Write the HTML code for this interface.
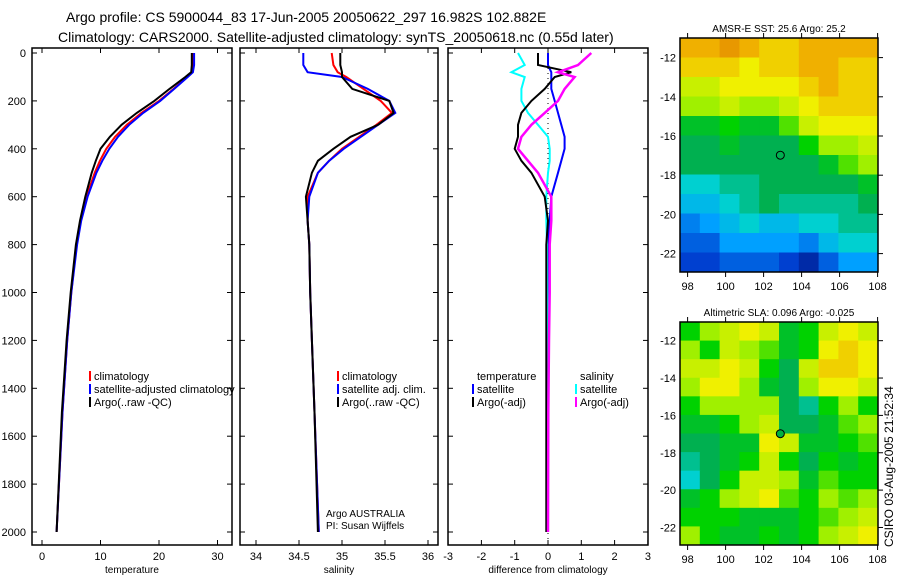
<!DOCTYPE html>
<html><head><meta charset="utf-8"><style>
body{margin:0;background:#fff;}
svg{display:block;font-family:"Liberation Sans",sans-serif;}
</style></head><body>
<svg id="c" width="900" height="580" xmlns="http://www.w3.org/2000/svg">
<text x="66" y="22" font-size="14">Argo profile: CS 5900044_83 17-Jun-2005 20050622_297 16.982S 102.882E</text>
<text x="58" y="42" font-size="14">Climatology: CARS2000. Satellite-adjusted climatology: synTS_20050618.nc (0.55d later)</text>
<text transform="translate(893,547) rotate(-90)" font-size="12">CSIRO 03-Aug-2005 21:52:34</text>
</svg>
<script>
// depth levels (m)
const depths=[0,50,80,100,150,200,250,300,350,400,450,500,600,700,800,1000,1200,1500,2000];
// temperature (deg C)
const tempClim=[25.9,25.9,25.7,24.8,22.5,20,17,14.5,12.5,11,9.9,9,7.6,6.6,5.9,5,4.3,3.5,2.5];
const tempSat=[26,26,25.8,24.9,22.6,20.2,17.3,14.9,13,11.5,10.3,9.3,7.8,6.7,6,5,4.3,3.5,2.5];
const tempArgo=[25.6,25.6,25.5,24.5,21.8,19.2,16.2,13.6,11.6,10,9.2,8.5,7.4,6.5,5.8,4.9,4.2,3.4,2.5];
// salinity (psu)
const salClim=[34.88,34.9,34.95,35.05,35.25,35.45,35.58,35.4,35.2,35.0,34.85,34.72,34.6,34.6,34.62,34.63,34.65,34.68,34.73];
const salSat=[34.55,34.55,34.6,35.0,35.3,35.55,35.62,35.42,35.22,35.02,34.85,34.72,34.62,34.6,34.62,34.63,34.65,34.68,34.73];
const salArgo=[34.98,34.98,35.0,35.0,35.12,35.55,35.6,35.42,35.1,34.9,34.72,34.65,34.58,34.6,34.62,34.63,34.65,34.68,34.72];
// differences from climatology
const dTempSat=[0,0,0.1,0.1,0.1,0.2,0.3,0.4,0.5,0.5,0.4,0.3,0.1,0.05,0,0,0,0,0];
const dTempArgo=[-0.3,-0.3,0.7,0.2,-0.1,-0.5,-0.8,-0.9,-0.9,-1.0,-0.8,-0.5,-0.1,0,-0.05,-0.05,-0.05,-0.05,-0.05];
const dSalSat=[-0.9,-0.7,-1.1,-0.7,-0.8,-0.8,-0.6,-0.3,0,0.05,0.05,0,-0.05,-0.05,-0.03,-0.02,0,0,0];
const dSalArgo=[1.3,0.9,0.3,0.8,0.5,0.3,-0.1,-0.5,-0.8,-0.9,-0.6,-0.3,0.1,0.1,0.05,0.05,0.03,0.01,0];
// map grids (colour index 0..1), rows from north to south
const sstGrid=[
[.9,.9,.95,.9,.85,.85,.9,.9,.9,.9],[.85,.85,.85,.8,.85,.85,.9,.9,.85,.85],
[.75,.75,.8,.8,.8,.8,.85,.9,.85,.85],[.7,.7,.75,.7,.7,.75,.8,.85,.85,.85],
[.55,.55,.6,.55,.55,.65,.75,.8,.8,.8],[.5,.5,.55,.5,.5,.5,.6,.7,.7,.75],
[.5,.5,.5,.5,.5,.5,.5,.55,.65,.7],[.4,.4,.45,.45,.5,.5,.5,.5,.5,.55],
[.35,.35,.4,.45,.5,.45,.45,.45,.45,.5],[.25,.3,.35,.4,.35,.35,.4,.4,.45,.45],
[.2,.2,.3,.3,.3,.3,.25,.35,.4,.4],[.15,.15,.2,.2,.2,.15,.08,.2,.3,.3]];
const slaGrid=[
[.6,.7,.75,.8,.75,.55,.6,.75,.8,.75],[.7,.6,.75,.7,.65,.55,.6,.8,.85,.8],
[.75,.75,.8,.75,.6,.5,.75,.85,.85,.8],[.7,.8,.8,.7,.55,.5,.7,.8,.8,.75],
[.6,.7,.7,.7,.7,.5,.45,.6,.7,.6],[.55,.55,.6,.7,.75,.5,.5,.55,.65,.7],
[.5,.5,.55,.55,.8,.75,.55,.55,.6,.65],[.45,.5,.55,.6,.75,.6,.5,.6,.55,.6],
[.4,.5,.6,.75,.75,.7,.55,.65,.6,.6],[.55,.6,.7,.75,.8,.65,.6,.7,.65,.7],
[.6,.6,.6,.55,.55,.55,.6,.65,.7,.75],[.7,.6,.55,.55,.6,.55,.6,.7,.75,.8]];
const depthTicks=[0,200,400,600,800,1000,1200,1400,1600,1800,2000];
const tempTicks=[0,10,20,30];
const salTicks=[34,34.5,35,35.5,36];
const diffTicks=[-3,-2,-1,0,1,2,3];
const latTicks=[-12,-14,-16,-18,-20,-22];
const lonTicks=[98,100,102,104,106,108];

const svg=document.getElementById('c');const NS='http://www.w3.org/2000/svg';
function mk(t,a,p){const e=document.createElementNS(NS,t);for(const k in a)e.setAttribute(k,a[k]);(p||svg).appendChild(e);return e;}
const yD=d=>53+d*0.2395;
const panels=[
 {x0:32,x1:232,sx:v=>42+v*5.85,ticks:tempTicks,lab:'temperature',name:'temperature-panel'},
 {x0:240,x1:438,sx:v=>256+(v-34)*86,ticks:salTicks,lab:'salinity',name:'salinity-panel'},
 {x0:448,x1:648,sx:v=>548+v*33.3,ticks:diffTicks,lab:'difference from climatology',name:'difference-panel'}];
panels.forEach((p,i)=>{
 const g=mk('g',{});
 
 
 mk('rect',{x:p.x0,y:48,width:p.x1-p.x0,height:497,fill:'none',stroke:'#000','stroke-width':1.5},g);
 depthTicks.forEach(d=>{const y=yD(d);
  mk('line',{x1:p.x1,x2:p.x1-5,y1:y,y2:y,stroke:'#000'},g);
  mk('line',{x1:p.x0,x2:p.x0+5,y1:y,y2:y,stroke:'#000'},g);
  if(i==0){const t=mk('text',{x:26,y:y+4,'font-size':11,'text-anchor':'end'},g);t.textContent=d;}
 });
 p.ticks.forEach(v=>{const x=p.sx(v);
  mk('line',{x1:x,x2:x,y1:545,y2:540,stroke:'#000'},g);
  mk('line',{x1:x,x2:x,y1:48,y2:53,stroke:'#000'},g);
  const t=mk('text',{x:x,y:560,'font-size':11,'text-anchor':'middle'},g);t.textContent=v;});
 const t=mk('text',{x:(p.x0+p.x1)/2,y:573,'font-size':10,'text-anchor':'middle'},g);t.textContent=p.lab;
});
function line(arr,sx,col,w,name,dash){
 const pts=arr.map((v,i)=>sx(v).toFixed(1)+','+yD(depths[i]).toFixed(1)).join(' ');
 const e=mk('polyline',{points:pts,fill:'none',stroke:col,'stroke-width':w});
 if(dash)e.setAttribute('stroke-dasharray',dash);
 
 
}
const P=panels;
line(tempClim,P[0].sx,'#f00',2,'temp-climatology-line');
line(tempSat,P[0].sx,'#00f',2,'temp-satellite-line');
line(tempArgo,P[0].sx,'#000',2,'temp-argo-line');
line(salClim,P[1].sx,'#f00',2,'sal-climatology-line');
line(salSat,P[1].sx,'#00f',2,'sal-satellite-line');
line(salArgo,P[1].sx,'#000',2,'sal-argo-line');
mk('line',{x1:548,x2:548,y1:53,y2:545,stroke:'#000','stroke-dasharray':'1,4'});
line(dTempSat,P[2].sx,'#00f',2,'diff-temp-satellite-line');
line(dSalSat,P[2].sx,'#0ff',2,'diff-sal-satellite-line');
line(dTempArgo,P[2].sx,'#000',2,'diff-temp-argo-line');
line(dSalArgo,P[2].sx,'#f0f',2.5,'diff-sal-argo-line');
function legend(x,y,items,name){
 const g=mk('g',{});
 
 
 items.forEach((it,i)=>{const yy=y+i*13;
  if(it[0])mk('line',{x1:x,x2:x,y1:yy-9,y2:yy+1,stroke:it[0],'stroke-width':2},g);
  const t=mk('text',{x:x+4,y:yy,'font-size':11},g);t.textContent=it[1];});
}
legend(90,380,[['#f00','climatology'],['#00f','satellite-adjusted climatology'],['#000','Argo(..raw -QC)']],'temperature-legend');
legend(338,380,[['#f00','climatology'],['#00f','satellite adj. clim.'],['#000','Argo(..raw -QC)']],'salinity-legend');
legend(473,380,[[null,'temperature'],['#00f','satellite'],['#000','Argo(-adj)']],'diff-temperature-legend');
legend(576,380,[[null,'salinity'],['#0ff','satellite'],['#f0f','Argo(-adj)']],'diff-salinity-legend');
let t=mk('text',{x:326,y:517,'font-size':10});t.textContent='Argo AUSTRALIA';
t=mk('text',{x:326,y:529,'font-size':10});t.textContent='PI: Susan Wijffels';
const stops=[[0,[0,16,120]],[.15,[0,64,208]],[.3,[0,160,255]],[.4,[0,208,208]],[.5,[0,176,80]],[.6,[0,210,0]],[.7,[160,240,0]],[.8,[240,240,0]],[.9,[240,176,0]],[1,[224,128,0]]];
function cmap(v){for(let i=1;i<stops.length;i++){if(v<=stops[i][0]){const a=stops[i-1],b=stops[i],f=(v-a[0])/(b[0]-a[0]);return 'rgb('+a[1].map((c,k)=>Math.round(c+(b[1][k]-c)*f)).join(',')+')';}}return 'rgb(224,128,0)';}
function map(grid,x0,y0,w,h,title,name,fillDot){
 const g=mk('g',{});
 
 
 const rows=grid.length,cols=grid[0].length,cw=w/cols,ch=h/rows;
 grid.forEach((r,i)=>r.forEach((v,j)=>{mk('rect',{x:x0+j*cw,y:y0+i*ch,width:cw+0.5,height:ch+0.5,fill:cmap(v)},g);}));
 mk('rect',{x:x0,y:y0,width:w,height:h,fill:'none',stroke:'#000','stroke-width':1.5},g);
 const lonX=l=>x0+(l-97.6)*19,latY=la=>y0+(-11-la)*19.6*(h/234);
 latTicks.forEach(la=>{const y=latY(la);mk('line',{x1:x0+w,x2:x0+w+5,y1:y,y2:y,stroke:'#000'},g);
  const tt=mk('text',{x:x0-4,y:y+4,'font-size':11,'text-anchor':'end'},g);tt.textContent=la;});
 lonTicks.forEach(l=>{const x=lonX(l);mk('line',{x1:x,x2:x,y1:y0+h,y2:y0+h+5,stroke:'#000'},g);mk('line',{x1:x,x2:x,y1:y0,y2:y0-5,stroke:'#000'},g);
  const tt=mk('text',{x:x,y:y0+h+18,'font-size':11,'text-anchor':'middle'},g);tt.textContent=l;});
 const tt=mk('text',{x:x0+w/2,y:y0-6,'font-size':10,'text-anchor':'middle'},g);tt.textContent=title;
 mk('circle',{cx:lonX(102.88),cy:latY(-16.98),r:4,fill:fillDot,stroke:'#000'},g);
}
map(sstGrid,680,38,198,234,'AMSR-E SST: 25.6 Argo: 25.2','sst-map','none');
map(slaGrid,680,322,198,223,'Altimetric SLA: 0.096 Argo: -0.025','sla-map','#00b040');
</script>
</body></html>
